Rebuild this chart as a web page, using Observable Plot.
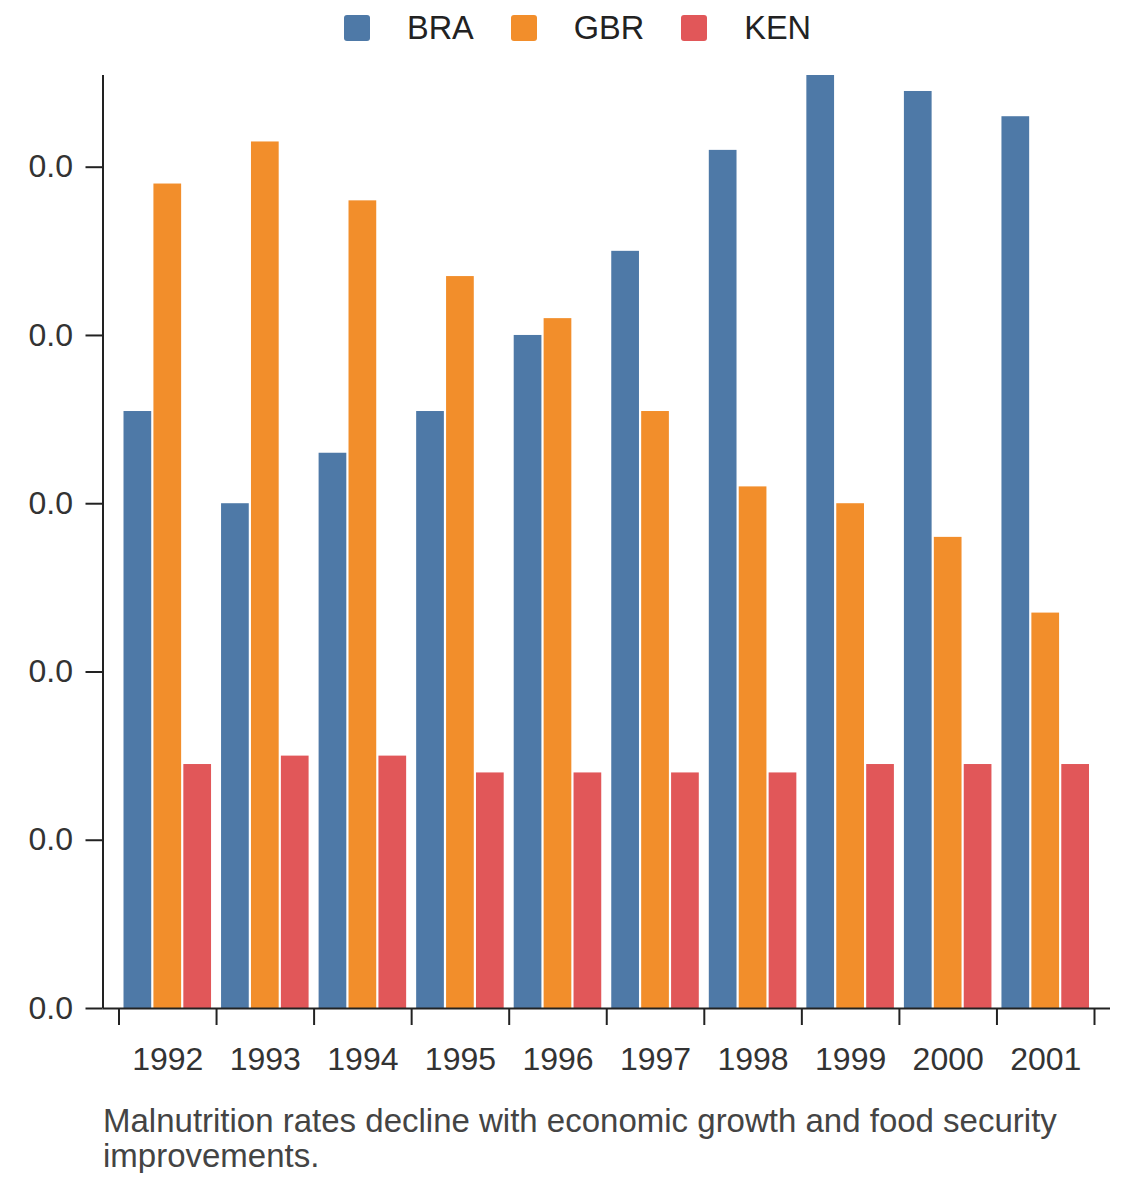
<!DOCTYPE html>
<html>
<head>
<meta charset="utf-8">
<script src="https://cdn.jsdelivr.net/npm/d3@7"></script>
<script src="https://cdn.jsdelivr.net/npm/@observablehq/plot@0.6"></script>
<style>
  body { margin: 0; background: #fff; font-family: "Liberation Sans", Arial, Helvetica, sans-serif; }
  #legend { height: 60px; display: flex; justify-content: center; align-items: center; padding-left: 15px; padding-bottom: 4px; box-sizing: border-box; }
  .item { display: flex; align-items: center; margin-right: 37px; font-size: 32.5px; color: #222; }
  .item:last-child { margin-right: 0; }
  .swatch { width: 26px; height: 26px; border-radius: 3px; margin-right: 37px; }
  #chart svg { display: block; }
  #caption { margin: 13px 0 0 103px; width: 1010px; font-size: 33px; line-height: 35px; color: #444; }
</style>
</head>
<body>
<div id="legend"></div>
<div id="chart"></div>
<div id="caption"></div>
<script>
const years = ["1992", "1993", "1994", "1995", "1996", "1997", "1998", "1999", "2000", "2001"];
const series = ["BRA", "GBR", "KEN"];
const colors = ["#4e79a7", "#f28e2b", "#e15759"];
const braValues = [0.03548, 0.0300, 0.0330, 0.03548, 0.0400, 0.0450, 0.0510, 0.05545, 0.0545, 0.0530];
const gbrValues = [0.0490, 0.0515, 0.0480, 0.0435, 0.0410, 0.03548, 0.0310, 0.0300, 0.0280, 0.0235];
const kenValues = [0.0145, 0.0150, 0.0150, 0.0140, 0.0140, 0.0140, 0.0140, 0.0145, 0.0145, 0.0145];
const yTicks = [0, 0.01, 0.02, 0.03, 0.04, 0.05];
const yTickLabels = ["0.0", "0.0", "0.0", "0.0", "0.0", "0.0"];
const yMax = 0.05545;
const captionText = "Malnutrition rates decline with economic growth and food security improvements.";

const valuesBySeries = {BRA: braValues, GBR: gbrValues, KEN: kenValues};
const rows = years.flatMap((year, i) => series.map(s => ({year, series: s, value: valuesBySeries[s][i]})));

// legend
const legend = document.getElementById("legend");
series.forEach((s, i) => {
  const item = document.createElement("div");
  item.className = "item";
  const sw = document.createElement("div");
  sw.className = "swatch";
  sw.style.background = colors[i];
  const label = document.createElement("span");
  label.textContent = s;
  item.appendChild(sw);
  item.appendChild(label);
  legend.appendChild(item);
});

const width = 1140, height = 1030;
const marginLeft = 102.5, marginRight = 30, marginTop = 15, marginBottom = 82;
const insetL = 16, insetR = 16;
const bw = (width - marginLeft - marginRight - insetL - insetR) / years.length;
const groupPad = 0.04 * bw;
const subW = (bw - 2 * groupPad) / series.length;
const gap = 1.1;
const axisColor = "#222";
const textColor = "#333";

const barMarks = series.map((s, i) => Plot.barY(rows.filter(d => d.series === s), {
  x: "year",
  y: "value",
  fill: "series",
  insetLeft: groupPad + i * subW + gap,
  insetRight: bw - groupPad - (i + 1) * subW + gap
}));

const noText = () => "";

const chart = Plot.plot({
  width, height, marginLeft, marginRight, marginTop, marginBottom,
  style: {fontFamily: "Liberation Sans, Arial, Helvetica, sans-serif", fontSize: "32px", background: "#fff"},
  x: {type: "band", domain: years, padding: 0, round: false, insetLeft: insetL, insetRight: insetR, label: null},
  y: {domain: [0, yMax], nice: false, label: null},
  color: {domain: series, range: colors},
  marks: [
    ...barMarks,
    Plot.ruleY([0], {stroke: axisColor, strokeWidth: 2}),
    Plot.ruleX([years[0]], {y1: 0, y2: yMax, dx: -bw / 2 - insetL, stroke: axisColor, strokeWidth: 2}),
    Plot.axisY(yTicks, {tickFormat: (d, i) => yTickLabels[i], tickSize: 17, tickPadding: 13, fontSize: 32, stroke: axisColor, strokeWidth: 2, fill: textColor, label: null}),
    Plot.axisX(years, {dx: -bw / 2, tickSize: 17, tickFormat: noText, stroke: axisColor, strokeWidth: 2, label: null}),
    Plot.axisX([years[years.length - 1]], {dx: bw / 2, tickSize: 17, tickFormat: noText, stroke: axisColor, strokeWidth: 2, label: null}),
    Plot.axisX(years, {tickSize: 0, tickPadding: 39, fontSize: 32, fill: textColor, label: null})
  ]
});
document.getElementById("chart").appendChild(chart);
document.getElementById("caption").textContent = captionText;
</script>
</body>
</html>
